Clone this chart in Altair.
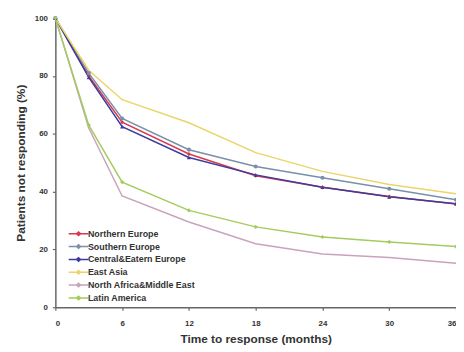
import altair as alt
import pandas as pd

months = [0, 3, 6, 12, 18, 24, 30, 36]
regions = [
    "Northern Europe",
    "Southern Europe",
    "Central&Eatern Europe",
    "East Asia",
    "North Africa&Middle East",
    "Latin America",
]
northern = [100, 80.0, 64.0, 53.0, 45.5, 41.5, 38.3, 35.7]
southern = [100, 81.0, 65.3, 54.5, 48.7, 44.8, 41.0, 37.2]
central = [100, 79.5, 62.5, 51.8, 45.8, 41.5, 38.2, 35.8]
east_asia = [100, 82.0, 71.8, 63.8, 53.5, 47.0, 42.5, 39.3]
north_africa = [100, 62.0, 38.5, 29.5, 22.0, 18.4, 17.2, 15.2]
latin = [100, 63.0, 43.3, 33.5, 27.8, 24.3, 22.6, 21.0]
series = [northern, southern, central, east_asia, north_africa, latin]
colors = ["#d8394f", "#7890a8", "#3c3c9c", "#ecd46a", "#c8a4bc", "#a4cc5c"]

marker_regions = ["Northern Europe", "Southern Europe", "Central&Eatern Europe", "Latin America"]
marker_shapes = ["diamond", "circle", "triangle-up", "diamond"]

x_ticks = [0, 6, 12, 18, 24, 30, 36]
y_ticks = [0, 20, 40, 60, 80, 100]

rows = []
for r, vals in zip(regions, series):
    for m, v in zip(months, vals):
        rows.append({"region": r, "month": m, "value": v})
df = pd.DataFrame(rows)

FONT = "Liberation Sans"
color_scale = alt.Scale(domain=regions, range=colors)

x_enc = alt.X(
    "month:Q",
    scale=alt.Scale(domain=[0, 36], nice=False),
    axis=alt.Axis(values=x_ticks, title="Time to response (months)", labelPadding=9, titlePadding=7),
)
y_enc = alt.Y(
    "value:Q",
    scale=alt.Scale(domain=[0, 100], nice=False),
    axis=alt.Axis(values=y_ticks, title="Patients not responding (%)", labelPadding=5, titlePadding=7),
)

lines = alt.Chart(df).mark_line(strokeWidth=1.5).encode(
    x=x_enc,
    y=y_enc,
    color=alt.Color(
        "region:N",
        scale=color_scale,
        sort=regions,
        legend=alt.Legend(
            title=None,
            orient="none",
            legendX=11,
            legendY=214,
            labelFont=FONT,
            labelFontSize=9,
            labelFontWeight="bold",
            labelColor="#333333",
            symbolType="M-1,0L9,0M3,0L4,-0.9L5,0L4,0.9Z",
            symbolSize=16,
            symbolStrokeWidth=1.5,
            rowPadding=2,
            labelOffset=13,
            padding=0,
        ),
    ),
)

points = (
    alt.Chart(df)
    .transform_filter(alt.FieldOneOfPredicate(field="region", oneOf=marker_regions))
    .mark_point(filled=True, size=18, opacity=1)
    .encode(
        x=x_enc,
        y=y_enc,
        color=alt.Color("region:N", scale=color_scale, legend=None),
        shape=alt.Shape("region:N", scale=alt.Scale(domain=marker_regions, range=marker_shapes), legend=None),
    )
)

chart = (
    alt.layer(lines, points)
    .properties(
        width=406,
        height=293,
        autosize=alt.AutoSizeParams(type="none"),
        padding={"left": 48, "top": 8, "right": 0, "bottom": 40},
        background="white",
    )
    .configure_view(stroke=None)
    .configure_axis(
        grid=False,
        domainColor="#666666",
        domainWidth=1.5,
        tickColor="#666666",
        tickWidth=1.2,
        tickSize=3,
        labelFont=FONT,
        labelFontSize=8,
        labelFontWeight="bold",
        labelColor="#333333",
        titleFont=FONT,
        titleFontSize=12,
        titleFontWeight="bold",
        titleColor="#333333",
    )
)

chart.save("out.html", embed_options={"renderer": "svg", "actions": False})
